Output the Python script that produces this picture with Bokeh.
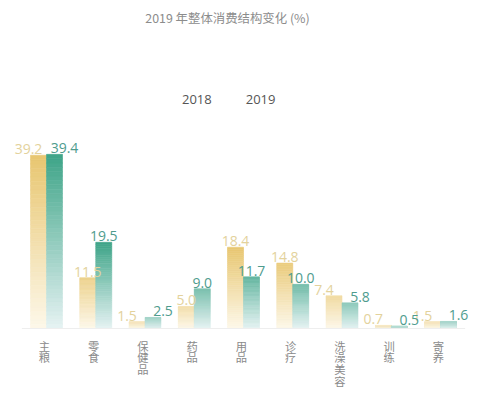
from bokeh.plotting import figure
from bokeh.models import ColumnDataSource, Label, Legend, LegendItem, Range1d
from bokeh.core.properties import value
from bokeh.embed import file_html
from bokeh.resources import INLINE

categories = ["主粮", "零食", "保健品", "药品", "用品", "诊疗", "洗澡美容", "训练", "寄养"]
values_2018 = [39.2, 11.5, 1.5, 5.0, 18.4, 14.8, 7.4, 0.7, 1.5]
values_2019 = [39.4, 19.5, 2.5, 9.0, 11.7, 10.0, 5.8, 0.5, 1.6]
series_names = ["2018", "2019"]
title_text = "2019 年整体消费结构变化 (%)"

W, H = 469, 389
PX_PER_CAT = 49.25
PX_PER_UNIT = 4.42
X0_PX = 46.0
BASE_PX = 328.0

p = figure(width=W, height=H, output_backend="svg", toolbar_location=None,
           x_range=Range1d(-X0_PX / PX_PER_CAT, (W - X0_PX) / PX_PER_CAT),
           y_range=Range1d(-(H - BASE_PX) / PX_PER_UNIT, BASE_PX / PX_PER_UNIT),
           min_border=0, outline_line_color=None, background_fill_color="white")
p.axis.visible = False
p.grid.visible = False


def hex2rgb(h):
    h = h.lstrip("#")
    return tuple(int(h[i:i + 2], 16) for i in (0, 2, 4))


def mix(c1, c2, t):
    return "#%02x%02x%02x" % tuple(int(round(a + (b - a) * t)) for a, b in zip(c1, c2))


styles = {
    "2018": dict(top=hex2rgb("#e8c670"), bottom=hex2rgb("#fdf8ea"), label="#e3d29c"),
    "2019": dict(top=hex2rgb("#3ea488"), bottom=hex2rgb("#e6f3f3"), label="#4f9c8e"),
}
BW = 16 / PX_PER_CAT
N = 40

quads = dict(left=[], right=[], bottom=[], top=[], color=[])
for name, vals in zip(series_names, [values_2018, values_2019]):
    st = styles[name]
    for i, v in enumerate(vals):
        left = i - BW if name == "2018" else i
        right = left + BW
        strength = min(1.0, 0.3 + v / 25.0)
        topc = tuple(b + (a - b) * strength for a, b in zip(st["top"], st["bottom"]))
        for k in range(N):
            b = v * k / N
            t = v * (k + 1) / N
            frac = (k + 0.5) / N  # 0 bottom -> 1 top
            quads["left"].append(left)
            quads["right"].append(right)
            quads["bottom"].append(b)
            quads["top"].append(t)
            quads["color"].append(mix(st["bottom"], topc, frac))

p.quad(left="left", right="right", bottom="bottom", top="top", fill_color="color",
       line_color="color", line_width=0.6, source=ColumnDataSource(quads))

# baseline
p.segment(x0=[-0.5], y0=[0], x1=[len(categories) - 0.5], y1=[0], line_color="#eeeeee", line_width=1.2)

# value labels
for name, vals, other in [("2018", values_2018, values_2019), ("2019", values_2019, values_2018)]:
    st = styles[name]
    xs, ys, txt, offs = [], [], [], []
    for i, v in enumerate(vals):
        center = i + (-BW / 2 if name == "2018" else BW / 2)
        xs.append(center)
        ys.append(v)
        txt.append("%.1f" % v)
        close = abs(v - other[i]) < 3
        offs.append((-10 if name == "2018" else 10) if close else 0)
    src = ColumnDataSource(dict(x=xs, y=ys, text=txt, xo=offs))
    p.text(x="x", y="y", text="text", x_offset="xo", y_offset=-6, source=src,
           text_font=value("Open Sans"), text_font_size="14px", text_color=st["label"],
           text_align="center", text_baseline="alphabetic")

# category labels (vertical, one character per line)
cx, cy, ct, cyo = [], [], [], []
for i, c in enumerate(categories):
    for j, ch in enumerate(c):
        cx.append(i)
        cy.append(0)
        ct.append(ch)
        cyo.append(9 + j * 11.7)
p.text(x="x", y="y", text="text", y_offset="yo", x_offset=-2,
       source=ColumnDataSource(dict(x=cx, y=cy, text=ct, yo=cyo)),
       text_font=value("Noto Sans CJK SC"), text_font_size="11.3px", text_color="#8a8a8a",
       text_align="center", text_baseline="top")

# title
p.add_layout(Label(x=227, y=H - 17, x_units="screen", y_units="screen", text=title_text,
                   text_font="Noto Sans CJK SC", text_font_size="12.4px", text_color="#8c8c8c",
                   text_align="center", text_baseline="middle"))

# legend
r18 = p.scatter(x=[], y=[], marker="square", size=5, fill_color="#efe3b0", line_color=None)
r19 = p.scatter(x=[], y=[], marker="square", size=5, fill_color="#c6e2dd", line_color=None)
legend = Legend(items=[LegendItem(label=series_names[0], renderers=[r18]),
                       LegendItem(label=series_names[1], renderers=[r19])],
                orientation="horizontal", location=(172, H - 108), padding=0, margin=0, spacing=24,
                glyph_width=5, glyph_height=5, label_standoff=5, label_text_font="Open Sans",
                label_text_font_size="13px", label_text_color="#555555", border_line_color=None,
                background_fill_alpha=0)
p.add_layout(legend, "center")

open("out.html", "w").write(file_html(p, INLINE))
